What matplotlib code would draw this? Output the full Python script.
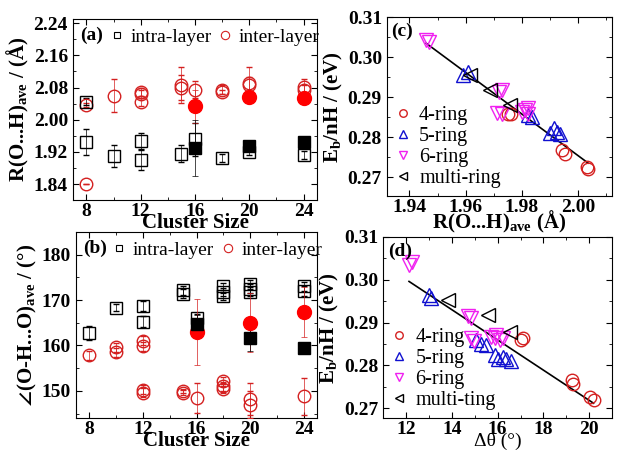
import numpy as np
import matplotlib
matplotlib.use("Agg")
from matplotlib import pyplot as plt
from matplotlib.ticker import MultipleLocator

plt.rcParams['font.family'] = ['Liberation Serif', 'DejaVu Serif']
plt.rcParams['mathtext.fontset'] = 'custom'
plt.rcParams['mathtext.rm'] = 'Liberation Serif'
plt.rcParams['mathtext.bf'] = 'Liberation Serif:bold'
plt.rcParams['mathtext.it'] = 'Liberation Serif:italic'
plt.rcParams['mathtext.default'] = 'bf'
plt.rcParams['mathtext.fallback'] = 'stix'

""" (a) R(O...H) vs cluster size """
a_intra_n = [8, 8, 10, 12, 12, 15, 16, 18, 20, 24]
a_intra_r = [2.045, 1.944, 1.909, 1.947, 1.900, 1.916, 1.951, 1.906, 1.920, 1.912]
a_intra_e = [0.008, 0.032, 0.027, 0.020, 0.025, 0.020, 0.040, 0.010, 0.008, 0.010]
a_intra_fill_n = [16, 20, 24]
a_intra_fill_r = [1.929, 1.934, 1.944]
a_intra_fill_e = [0.070, 0.010, 0.005]
a_inter_n = [8, 8, 10, 12, 12, 12, 15, 15, 16, 18, 18, 20, 20, 24, 24]
a_inter_r = [2.037, 1.840, 2.060, 2.070, 2.065, 2.045, 2.087, 2.080, 2.075, 2.075, 2.070, 2.092, 2.085, 2.082, 2.075]
a_inter_e = [0.005, 0.0, 0.040, 0.010, 0.010, 0.010, 0.045, 0.030, 0.020, 0.010, 0.005, 0.040, 0.020, 0.020, 0.010]
a_inter_fill_n = [16, 20, 24]
a_inter_fill_r = [2.033, 2.057, 2.055]
a_inter_fill_e = [0.040, 0.015, 0.010]

""" (b) angle vs cluster size """
b_intra_n = [8, 10, 12, 12, 15, 15, 16, 18, 18, 18, 20, 20, 20, 24, 24]
b_intra_a = [162.8, 168.3, 168.7, 165.2, 172.2, 171.4, 166.0, 173.0, 171.8, 170.8, 173.5, 172.5, 171.8, 173.0, 172.0]
b_intra_e = [1.5, 0.8, 1.2, 1.2, 1.0, 1.0, 1.0, 0.8, 0.8, 0.8, 1.0, 1.0, 1.0, 1.0, 1.0]
b_intra_fill_n = [16, 20, 24]
b_intra_fill_a = [164.8, 161.7, 159.5]
b_intra_fill_e = [2.0, 3.0, 0.8]
b_inter_n = [8, 10, 10, 12, 12, 12, 12, 15, 15, 16, 18, 18, 18, 20, 20, 24]
b_inter_a = [157.8, 159.6, 158.5, 161.0, 159.8, 150.3, 149.6, 150.0, 149.6, 148.4, 152.1, 151.0, 150.5, 148.2, 147.0, 148.8]
b_inter_e = [1.0, 1.0, 1.0, 1.0, 1.0, 1.0, 1.0, 0.5, 0.5, 3.3, 1.0, 1.0, 1.0, 3.5, 3.0, 4.0]
b_inter_fill_n = [16, 20, 24]
b_inter_fill_a = [163.0, 165.0, 167.3]
b_inter_fill_e = [7.2, 6.5, 5.5]

""" (c) Eb/nH vs R """
c_r4 = [1.9751, 1.9760, 1.9942, 1.9954, 2.0031, 2.0035]
c_e4 = [0.2859, 0.2857, 0.2768, 0.2759, 0.2726, 0.2720]
c_r5 = [1.9608, 1.9590, 1.9823, 1.9835, 1.9900, 1.9912, 1.9924, 1.9936]
c_e5 = [0.2963, 0.2955, 0.2855, 0.2851, 0.2810, 0.2822, 0.2813, 0.2808]
c_r6 = [1.9471, 1.9460, 1.9728, 1.9720, 1.9730, 1.9710, 1.9823, 1.9810, 1.9800, 1.9820]
c_e6 = [0.3038, 0.3043, 0.2918, 0.2912, 0.2858, 0.2860, 0.2872, 0.2868, 0.2862, 0.2858]
c_rm = [1.9614, 1.9686, 1.9757]
c_em = [0.2955, 0.2918, 0.2880]

""" (d) Eb/nH vs delta theta """
d_t4 = [17.11, 17.00, 19.24, 19.30, 20.04, 20.19]
d_e4 = [0.2863, 0.2860, 0.2765, 0.2757, 0.2726, 0.2719]
d_t5 = [13.01, 13.10, 15.06, 15.28, 15.50, 15.87, 16.02, 16.38, 16.60, 16.24]
d_e5 = [0.2964, 0.2958, 0.2859, 0.2851, 0.2847, 0.2824, 0.2816, 0.2816, 0.2810, 0.2819]
d_t6 = [12.13, 12.28, 14.69, 14.84, 14.84, 14.99, 15.72, 15.87, 16.09, 16.23, 15.95]
d_e6 = [0.3035, 0.3042, 0.2915, 0.2910, 0.2863, 0.2858, 0.2867, 0.2863, 0.2859, 0.2863, 0.2870]
d_tm = [13.82, 15.58, 16.53]
d_em = [0.2953, 0.2918, 0.2879]

RED = "#d42020"
BLUE = "#1010d0"
MAG = "#f020f0"

fig = plt.figure(figsize=(6.17, 4.54), dpi=100)
ax_a = fig.add_axes([0.118, 0.559, 0.396, 0.399])
ax_b = fig.add_axes([0.123, 0.079, 0.391, 0.410])
ax_c = fig.add_axes([0.627, 0.568, 0.365, 0.394])
ax_d = fig.add_axes([0.621, 0.079, 0.371, 0.399])


def style(ax):
    ax.tick_params(which='both', direction='in', top=True, right=True, labelsize=14)
    ax.tick_params(axis='x', pad=2)
    ax.tick_params(which='major', length=4)
    ax.tick_params(which='minor', length=2)
    for lab in ax.get_xticklabels() + ax.get_yticklabels():
        lab.set_fontweight('bold')


def size_panel(ax, intra, intra_f, inter, inter_f):
    eb = dict(elinewidth=0.5, capsize=2, capthick=0.5)
    ax.errorbar(inter[0], inter[1], yerr=inter[2], fmt='o', mfc='none', mec=RED, ms=9, mew=1.0,
                ecolor=RED, zorder=3, **eb)
    ax.errorbar(inter_f[0], inter_f[1], yerr=inter_f[2], fmt='o', color='red', ms=10,
                ecolor=RED, zorder=4, **eb)
    ax.errorbar(intra[0], intra[1], yerr=intra[2], fmt='s', mfc='none', mec='black', ms=8, mew=1.0,
                ecolor='black', zorder=3, **eb)
    ax.errorbar(intra_f[0], intra_f[1], yerr=intra_f[2], fmt='s', color='black', ms=8,
                ecolor='black', zorder=4, **eb)
    # legend entries, markers only
    ax.plot([], [], 's', mfc='none', mec='black', ms=5, mew=0.8, label='intra-layer')
    ax.plot([], [], 'o', mfc='none', mec=RED, ms=6, mew=0.8, label='inter-layer')
    ax.set_xlim(7, 25)
    ax.xaxis.set_major_locator(MultipleLocator(4))
    ax.xaxis.set_minor_locator(MultipleLocator(2))
    ax.set_xlabel("Cluster Size", fontsize=15, fontweight='bold', labelpad=-5)
    ax.legend(ncol=2, loc='upper left', bbox_to_anchor=(0.10, 1.025), frameon=False,
              fontsize=14, handlelength=0.6, handletextpad=0.4, columnspacing=0.4, borderaxespad=0.3)
    style(ax)


size_panel(ax_a, (a_intra_n, a_intra_r, a_intra_e), (a_intra_fill_n, a_intra_fill_r, a_intra_fill_e),
           (a_inter_n, a_inter_r, a_inter_e), (a_inter_fill_n, a_inter_fill_r, a_inter_fill_e))
ax_a.set_ylim(1.80, 2.25)
ax_a.yaxis.set_major_locator(MultipleLocator(0.08))
ax_a.yaxis.set_minor_locator(MultipleLocator(0.04))
ax_a.yaxis.set_major_formatter(plt.FormatStrFormatter('%.2f'))
ax_a.set_ylabel("R(O...H)$_{ave}$ / (Å)", fontsize=15, fontweight='bold', labelpad=2)
ax_a.text(0.03, 0.96, "(a)", transform=ax_a.transAxes, fontsize=14, fontweight='bold', va='top')
style(ax_a)

size_panel(ax_b, (b_intra_n, b_intra_a, b_intra_e), (b_intra_fill_n, b_intra_fill_a, b_intra_fill_e),
           (b_inter_n, b_inter_a, b_inter_e), (b_inter_fill_n, b_inter_fill_a, b_inter_fill_e))
ax_b.set_ylim(144, 185)
ax_b.yaxis.set_major_locator(MultipleLocator(10))
ax_b.yaxis.set_minor_locator(MultipleLocator(5))
ax_b.set_ylabel("$\\angle$(O-H...O)$_{ave}$ / (°)", fontsize=15, fontweight='bold', labelpad=2)
ax_b.text(0.03, 0.96, "(b)", transform=ax_b.transAxes, fontsize=14, fontweight='bold', va='top')
style(ax_b)


def ring_panel(ax, sets, last_label):
    (x4, y4), (x5, y5), (x6, y6), (xm, ym) = sets
    ax.plot(x4, y4, 'o', mfc='none', mec=RED, ms=9, mew=1.0, label='4-ring')
    ax.plot(x5, y5, '^', mfc='none', mec=BLUE, ms=10, mew=1.0, label='5-ring')
    ax.plot(x6, y6, 'v', mfc='none', mec=MAG, ms=10, mew=1.0, label='6-ring')
    ax.plot(xm, ym, '<', mfc='none', mec='black', ms=10, mew=1.0, label=last_label)
    xs = np.concatenate([x4, x5, x6, xm])
    ys = np.concatenate([y4, y5, y6, ym])
    k, b = np.polyfit(xs, ys, 1)
    xx = np.array([xs.min(), xs.max()])
    ax.plot(xx, k * xx + b, '-', color='black', lw=1.2, zorder=0)
    ax.legend(loc='lower left', frameon=False, fontsize=14.5, markerscale=0.6, handlelength=0.8,
              handletextpad=0.4, labelspacing=0.1, borderaxespad=0.0)
    ax.set_ylabel("E$_b$/nH / (eV)", fontsize=15, fontweight='bold', labelpad=2)
    ax.yaxis.set_major_locator(MultipleLocator(0.01))
    ax.yaxis.set_minor_locator(MultipleLocator(0.005))
    ax.yaxis.set_major_formatter(plt.FormatStrFormatter('%.2f'))
    style(ax)


ring_panel(ax_c, [(c_r4, c_e4), (c_r5, c_e5), (c_r6, c_e6), (c_rm, c_em)], 'multi-ring')
ax_c.set_xlim(1.932, 2.012)
ax_c.set_ylim(0.2653, 0.31)
ax_c.xaxis.set_major_locator(MultipleLocator(0.02))
ax_c.xaxis.set_minor_locator(MultipleLocator(0.01))
ax_c.xaxis.set_major_formatter(plt.FormatStrFormatter('%.2f'))
ax_c.set_xlabel("R(O...H)$_{ave}$ (Å)", fontsize=15, fontweight='bold', labelpad=-5)
ax_c.text(0.02, 0.97, "(c)", transform=ax_c.transAxes, fontsize=14, fontweight='bold', va='top')
style(ax_c)

ring_panel(ax_d, [(d_t4, d_e4), (d_t5, d_e5), (d_t6, d_e6), (d_tm, d_em)], 'multi-ting')
ax_d.set_xlim(11, 21)
ax_d.set_ylim(0.2677, 0.31)
ax_d.xaxis.set_major_locator(MultipleLocator(2))
ax_d.xaxis.set_minor_locator(MultipleLocator(1))
ax_d.set_xlabel("Δθ (°)", fontsize=14, labelpad=-4)
ax_d.text(0.02, 0.97, "(d)", transform=ax_d.transAxes, fontsize=14, fontweight='bold', va='top')
style(ax_d)

plt.savefig("out.png", dpi=100)
